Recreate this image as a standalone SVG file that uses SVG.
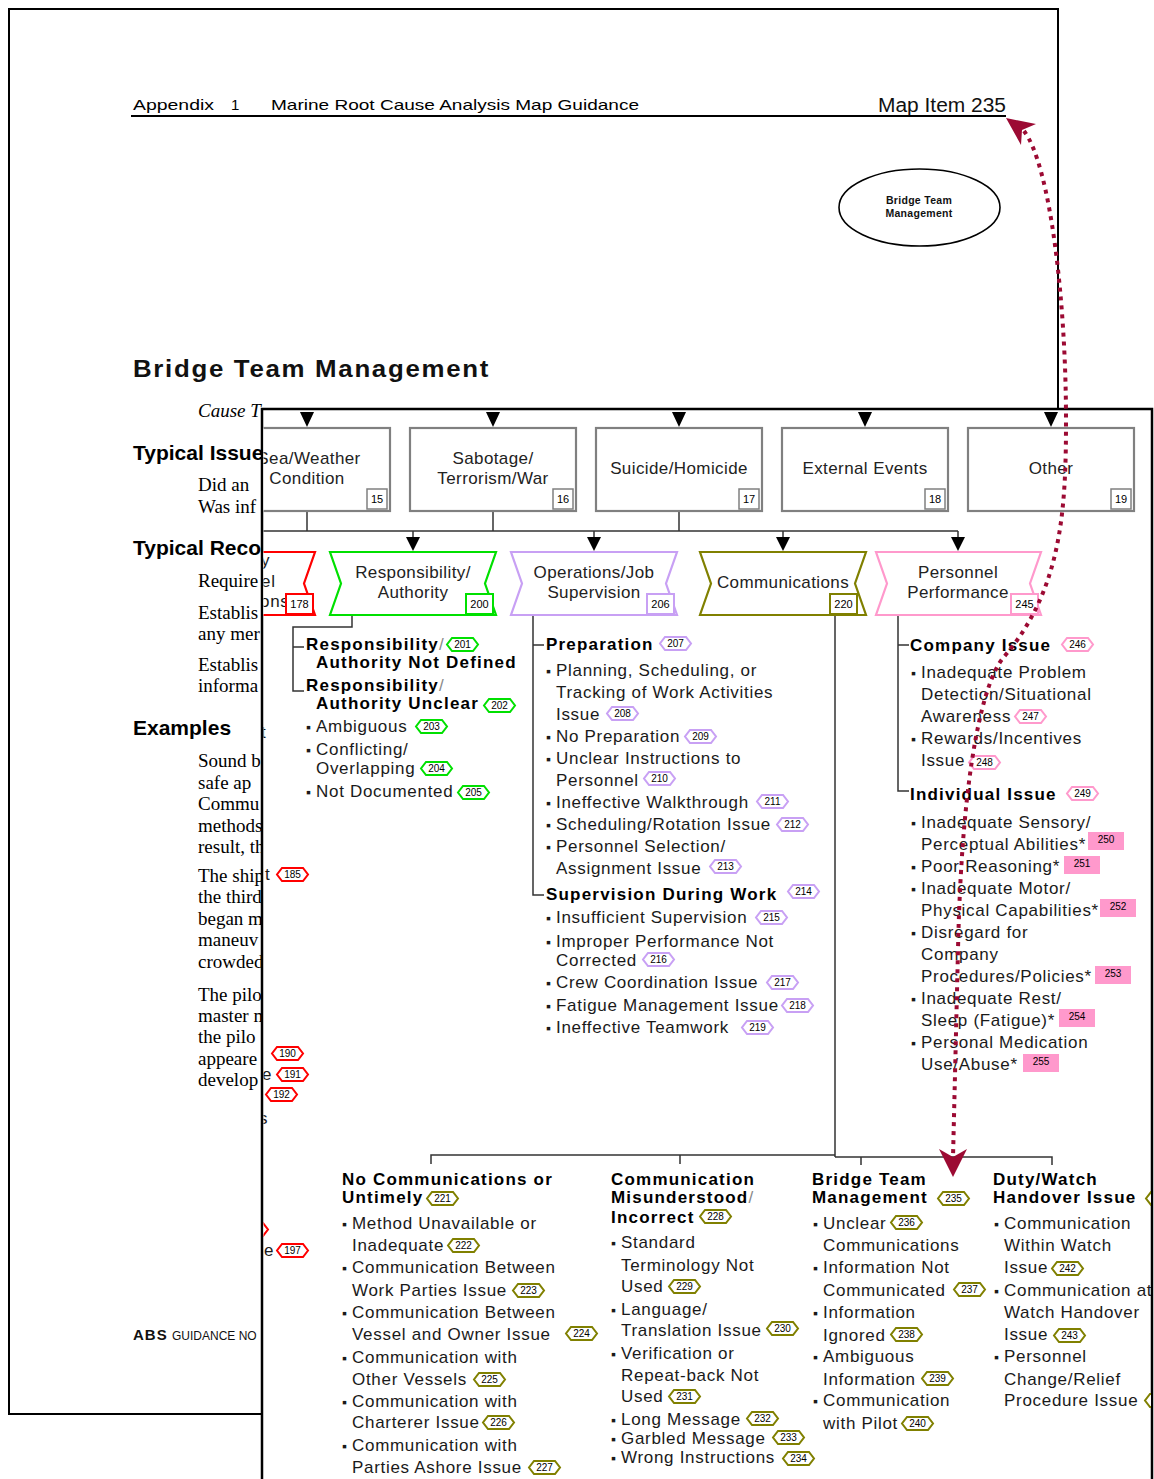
<svg xmlns="http://www.w3.org/2000/svg" width="1154" height="1479" viewBox="0 0 1154 1479">
<style>
text{font-family:"Liberation Sans",Arial,sans-serif;fill:#111}
.hd{font-size:15px;fill:#000}
.ser{font-family:"Liberation Serif","Times New Roman",serif;font-size:19px;fill:#000}
.ita{font-style:italic}
.lh{font-size:21px;font-weight:bold;fill:#000}
.t{font-size:17px;letter-spacing:0.7px;fill:#1a1a1a}
.b{font-size:17px;font-weight:bold;letter-spacing:1.2px;fill:#000}
.bt{font-size:17px;letter-spacing:0.4px;text-anchor:middle;fill:#222}
.n{font-size:10px;text-anchor:middle;fill:#000}
.nb{font-size:11px;text-anchor:middle;fill:#000}
.bu{font-size:14px}
.bx{fill:#fff;stroke:#808080;stroke-width:2.2}
.nbx{fill:#fff;stroke:#808080;stroke-width:1.5}
.ln{fill:none;stroke:#333;stroke-width:1.5}
.ah{fill:#000}
.hx{fill:#fff;stroke-width:2}
.cv{fill:#fff;stroke-width:2.2}
.nc{fill:#fff;stroke-width:2}
.r{stroke:#ff0000}.g{stroke:#00e000}.p{stroke:#c8a0f4}.o{stroke:#808000}.k{stroke:#ff99cc}
.pk{fill:#ff99cc}
.sl{fill:#888;font-weight:normal}
.red{fill:#9c0a33}
</style>
<defs>
<polygon id="hx" points="5,0 26,0 31,6.5 26,13 5,13 0,6.5"/>
<clipPath id="pg"><rect x="263.5" y="410.5" width="887.5" height="1070"/></clipPath>
</defs>
<rect width="1154" height="1479" fill="#fff"/>

<g id="page1">
<rect x="9" y="9" width="1049" height="1405" fill="#fff" stroke="#000" stroke-width="2"/>
<text class="hd" x="133" y="110" textLength="81" lengthAdjust="spacingAndGlyphs">Appendix</text>
<text class="hd" x="231" y="110">1</text>
<text class="hd" x="271" y="110" textLength="368" lengthAdjust="spacingAndGlyphs">Marine Root Cause Analysis Map Guidance</text>
<text x="878" y="112" font-size="20" fill="#000" textLength="128" lengthAdjust="spacingAndGlyphs">Map Item 235</text>
<line x1="131" y1="116" x2="1006" y2="116" stroke="#000" stroke-width="2"/>
<g id="ellipse-node">
<ellipse cx="919.5" cy="207.5" rx="80.5" ry="38.5" fill="#fff" stroke="#000" stroke-width="1.6"/>
<text x="919" y="204" font-size="10.5" font-weight="bold" text-anchor="middle" fill="#000" letter-spacing="0.3">Bridge Team</text>
<text x="919" y="217" font-size="10.5" font-weight="bold" text-anchor="middle" fill="#000" letter-spacing="0.3">Management</text>
</g>
<text x="133" y="377" font-size="23" font-weight="bold" fill="#000" letter-spacing="1.5" textLength="357" lengthAdjust="spacingAndGlyphs">Bridge Team Management</text>
<text class="ser ita" x="198" y="417">Cause T</text>
<text class="lh" x="133" y="460">Typical Issue</text>
<text class="ser" x="198" y="491">Did an</text>
<text class="ser" x="198" y="513">Was inf</text>
<text class="lh" x="133" y="555">Typical Reco</text>
<text class="ser" x="198" y="587">Require</text>
<text class="ser" x="198" y="619">Establis</text>
<text class="ser" x="198" y="640">any mer</text>
<text class="ser" x="198" y="671">Establis</text>
<text class="ser" x="198" y="692">informa</text>
<text class="lh" x="133" y="735">Examples</text>
<text class="ser" x="198" y="767">Sound b</text>
<text class="ser" x="198" y="789">safe  ap</text>
<text class="ser" x="198" y="810">Commu</text>
<text class="ser" x="198" y="832">methods</text>
<text class="ser" x="198" y="853">result, th</text>
<text class="ser" x="198" y="882">The ship</text>
<text class="ser" x="198" y="903">the third</text>
<text class="ser" x="198" y="925">began m</text>
<text class="ser" x="198" y="946">maneuv</text>
<text class="ser" x="198" y="968">crowded</text>
<text class="ser" x="198" y="1001">The pilo</text>
<text class="ser" x="198" y="1022">master m</text>
<text class="ser" x="198" y="1043">the  pilo</text>
<text class="ser" x="198" y="1065">appeare</text>
<text class="ser" x="198" y="1086">develop</text>
<text x="133" y="1340" font-size="15" font-weight="bold" fill="#000" letter-spacing="1">ABS</text>
<text x="172" y="1340" font-size="12" fill="#000">GUIDANCE NO</text>
</g>

<g id="page2">
<rect x="262" y="409" width="890" height="1090" fill="#fff" stroke="#000" stroke-width="2.5"/>
<g clip-path="url(#pg)">

<g id="connectors">
<polygon class="ah" points="300,412 314,412 307,427"/>
<polygon class="ah" points="486,412 500,412 493,427"/>
<polygon class="ah" points="672,412 686,412 679,427"/>
<polygon class="ah" points="858,412 872,412 865,427"/>
<polygon class="ah" points="1044,412 1058,412 1051,427"/>
<path class="ln" d="M307,511V531M493,511V531M679,511V531M240,531H958M413,531V538M594,531V538M783,531V538M958,531V538"/>
<polygon class="ah" points="406,537 420,537 413,551"/>
<polygon class="ah" points="587,537 601,537 594,551"/>
<polygon class="ah" points="776,537 790,537 783,551"/>
<polygon class="ah" points="951,537 965,537 958,551"/>
<path class="ln" d="M352,615V627H293V691H304M293,647H304"/>
<path class="ln" d="M533,615V895H544M533,645H544"/>
<path class="ln" d="M898,615V791H909M898,645H909"/>
<path class="ln" d="M835,615V1157M431,1164V1155H835M835,1157H1052V1165M680,1155V1164M861,1157V1165"/>
</g>

<g id="box15"><rect class="bx" x="224" y="428" width="166" height="83"/><text class="bt" x="309" y="464">Sea/Weather</text><text class="bt" x="307" y="484">Condition</text><rect class="nbx" x="367" y="489" width="20" height="20"/><text class="nb" x="377" y="503">15</text></g>
<g id="box16"><rect class="bx" x="410" y="428" width="166" height="83"/><text class="bt" x="493" y="464">Sabotage/</text><text class="bt" x="493" y="484">Terrorism/War</text><rect class="nbx" x="553" y="489" width="20" height="20"/><text class="nb" x="563" y="503">16</text></g>
<g id="box17"><rect class="bx" x="596" y="428" width="166" height="83"/><text class="bt" x="679" y="474">Suicide/Homicide</text><rect class="nbx" x="739" y="489" width="20" height="20"/><text class="nb" x="749" y="503">17</text></g>
<g id="box18"><rect class="bx" x="782" y="428" width="166" height="83"/><text class="bt" x="865" y="474">External Events</text><rect class="nbx" x="925" y="489" width="20" height="20"/><text class="nb" x="935" y="503">18</text></g>
<g id="box19"><rect class="bx" x="968" y="428" width="166" height="83"/><text class="bt" x="1051" y="474">Other</text><rect class="nbx" x="1111" y="489" width="20" height="20"/><text class="nb" x="1121" y="503">19</text></g>

<g id="chev178"><path class="cv r" d="M149,552H315L304,583.5L315,615H149L160,583.5Z"/><text class="t" x="261" y="566">y</text><text class="t" x="261" y="587">el</text><text class="t" x="260" y="607">ons</text><rect class="nc r" x="286" y="594" width="27" height="20"/><text class="nb" x="299.5" y="608">178</text></g>
<g id="chev200"><path class="cv g" d="M330,552H496L485,583.5L496,615H330L341,583.5Z"/><text class="bt" x="413" y="578">Responsibility/</text><text class="bt" x="413" y="598">Authority</text><rect class="nc g" x="466" y="594" width="27" height="20"/><text class="nb" x="479.5" y="608">200</text></g>
<g id="chev206"><path class="cv p" d="M511,552H677L666,583.5L677,615H511L522,583.5Z"/><text class="bt" x="594" y="578">Operations/Job</text><text class="bt" x="594" y="598">Supervision</text><rect class="nc p" x="647" y="594" width="27" height="20"/><text class="nb" x="660.5" y="608">206</text></g>
<g id="chev220"><path class="cv o" d="M700,552H866L855,583.5L866,615H700L711,583.5Z"/><text class="bt" x="783" y="588">Communications</text><rect class="nc o" x="830" y="594" width="27" height="20"/><text class="nb" x="843.5" y="608">220</text></g>
<g id="chev245"><path class="cv k" d="M876,552H1041L1030,583.5L1041,615H876L887,583.5Z"/><text class="bt" x="958" y="578">Personnel</text><text class="bt" x="958" y="598">Performance</text><rect class="nc k" x="1011" y="594" width="27" height="20"/><text class="nb" x="1024.5" y="608">245</text></g>

<g id="red-fragments">
<text class="t" x="261" y="738">t</text>
<text class="t" x="265" y="880">t</text><use href="#hx" class="hx r" x="277" y="868"/><text class="n" x="292.5" y="878">185</text>
<use href="#hx" class="hx r" x="272" y="1047"/><text class="n" x="287.5" y="1057">190</text>
<text class="t" x="262" y="1080">e</text><use href="#hx" class="hx r" x="277" y="1068"/><text class="n" x="292.5" y="1078">191</text>
<use href="#hx" class="hx r" x="266" y="1088"/><text class="n" x="281.5" y="1098">192</text>
<text class="t" x="259" y="1124">s</text>
<use href="#hx" class="hx r" x="237" y="1223"/>
<text class="t" x="264" y="1256">e</text><use href="#hx" class="hx r" x="277" y="1244"/><text class="n" x="292.5" y="1254">197</text>
</g>

<g id="resp-items">
<text class="b" x="306" y="650">Responsibility<tspan class="sl">/</tspan></text><use href="#hx" class="hx g" x="447" y="638"/><text class="n" x="462.5" y="648">201</text>
<text class="b" x="316" y="668">Authority Not Defined</text>
<text class="b" x="306" y="691">Responsibility<tspan class="sl">/</tspan></text>
<text class="b" x="316" y="709">Authority Unclear</text><use href="#hx" class="hx g" x="484" y="699"/><text class="n" x="499.5" y="709">202</text>
<text class="t" y="732"><tspan class="bu" x="306">▪</tspan><tspan x="316">Ambiguous</tspan></text><use href="#hx" class="hx g" x="416" y="720"/><text class="n" x="431.5" y="730">203</text>
<text class="t" y="755"><tspan class="bu" x="306">▪</tspan><tspan x="316">Conflicting/</tspan></text>
<text class="t" x="316" y="774">Overlapping</text><use href="#hx" class="hx g" x="421" y="762"/><text class="n" x="436.5" y="772">204</text>
<text class="t" y="797"><tspan class="bu" x="306">▪</tspan><tspan x="316">Not Documented</tspan></text><use href="#hx" class="hx g" x="458" y="786"/><text class="n" x="473.5" y="796">205</text>
</g>

<g id="ops-items">
<text class="b" x="546" y="650">Preparation</text><use href="#hx" class="hx p" x="660" y="637"/><text class="n" x="675.5" y="647">207</text>
<text class="t" y="676"><tspan class="bu" x="546">▪</tspan><tspan x="556">Planning, Scheduling, or</tspan></text>
<text class="t" x="556" y="698">Tracking of Work Activities</text>
<text class="t" x="556" y="720">Issue</text><use href="#hx" class="hx p" x="607" y="707"/><text class="n" x="622.5" y="717">208</text>
<text class="t" y="742"><tspan class="bu" x="546">▪</tspan><tspan x="556">No Preparation</tspan></text><use href="#hx" class="hx p" x="685" y="730"/><text class="n" x="700.5" y="740">209</text>
<text class="t" y="764"><tspan class="bu" x="546">▪</tspan><tspan x="556">Unclear Instructions to</tspan></text>
<text class="t" x="556" y="786">Personnel</text><use href="#hx" class="hx p" x="644" y="772"/><text class="n" x="659.5" y="782">210</text>
<text class="t" y="808"><tspan class="bu" x="546">▪</tspan><tspan x="556">Ineffective Walkthrough</tspan></text><use href="#hx" class="hx p" x="757" y="795"/><text class="n" x="772.5" y="805">211</text>
<text class="t" y="830"><tspan class="bu" x="546">▪</tspan><tspan x="556">Scheduling/Rotation Issue</tspan></text><use href="#hx" class="hx p" x="777" y="818"/><text class="n" x="792.5" y="828">212</text>
<text class="t" y="852"><tspan class="bu" x="546">▪</tspan><tspan x="556">Personnel Selection/</tspan></text>
<text class="t" x="556" y="874">Assignment Issue</text><use href="#hx" class="hx p" x="710" y="860"/><text class="n" x="725.5" y="870">213</text>
<text class="b" x="546" y="900">Supervision During Work</text><use href="#hx" class="hx p" x="788" y="885"/><text class="n" x="803.5" y="895">214</text>
<text class="t" y="923"><tspan class="bu" x="546">▪</tspan><tspan x="556">Insufficient Supervision</tspan></text><use href="#hx" class="hx p" x="756" y="911"/><text class="n" x="771.5" y="921">215</text>
<text class="t" y="947"><tspan class="bu" x="546">▪</tspan><tspan x="556">Improper Performance Not</tspan></text>
<text class="t" x="556" y="966">Corrected</text><use href="#hx" class="hx p" x="643" y="953"/><text class="n" x="658.5" y="963">216</text>
<text class="t" y="988"><tspan class="bu" x="546">▪</tspan><tspan x="556">Crew Coordination Issue</tspan></text><use href="#hx" class="hx p" x="767" y="976"/><text class="n" x="782.5" y="986">217</text>
<text class="t" y="1011"><tspan class="bu" x="546">▪</tspan><tspan x="556">Fatigue Management Issue</tspan></text><use href="#hx" class="hx p" x="782" y="999"/><text class="n" x="797.5" y="1009">218</text>
<text class="t" y="1033"><tspan class="bu" x="546">▪</tspan><tspan x="556">Ineffective Teamwork</tspan></text><use href="#hx" class="hx p" x="742" y="1021"/><text class="n" x="757.5" y="1031">219</text>
</g>

<g id="pers-items">
<text class="b" x="910" y="651">Company Issue</text><use href="#hx" class="hx k" x="1062" y="638"/><text class="n" x="1077.5" y="648">246</text>
<text class="t" y="678"><tspan class="bu" x="911">▪</tspan><tspan x="921">Inadequate Problem</tspan></text>
<text class="t" x="921" y="700">Detection/Situational</text>
<text class="t" x="921" y="722">Awareness</text><use href="#hx" class="hx k" x="1015" y="710"/><text class="n" x="1030.5" y="720">247</text>
<text class="t" y="744"><tspan class="bu" x="911">▪</tspan><tspan x="921">Rewards/Incentives</tspan></text>
<text class="t" x="921" y="766">Issue</text><use href="#hx" class="hx k" x="969" y="756"/><text class="n" x="984.5" y="766">248</text>
<text class="b" x="910" y="800">Individual Issue</text><use href="#hx" class="hx k" x="1067" y="787"/><text class="n" x="1082.5" y="797">249</text>
<text class="t" y="828"><tspan class="bu" x="911">▪</tspan><tspan x="921">Inadequate Sensory/</tspan></text>
<text class="t" x="921" y="850">Perceptual Abilities*</text><rect class="pk" x="1088" y="832" width="36" height="18"/><text class="n" x="1106" y="843">250</text>
<text class="t" y="872"><tspan class="bu" x="911">▪</tspan><tspan x="921">Poor Reasoning*</tspan></text><rect class="pk" x="1064" y="856" width="36" height="18"/><text class="n" x="1082" y="867">251</text>
<text class="t" y="894"><tspan class="bu" x="911">▪</tspan><tspan x="921">Inadequate Motor/</tspan></text>
<text class="t" x="921" y="916">Physical Capabilities*</text><rect class="pk" x="1100" y="899" width="36" height="18"/><text class="n" x="1118" y="910">252</text>
<text class="t" y="938"><tspan class="bu" x="911">▪</tspan><tspan x="921">Disregard for</tspan></text>
<text class="t" x="921" y="960">Company</text>
<text class="t" x="921" y="982">Procedures/Policies*</text><rect class="pk" x="1095" y="966" width="36" height="18"/><text class="n" x="1113" y="977">253</text>
<text class="t" y="1004"><tspan class="bu" x="911">▪</tspan><tspan x="921">Inadequate Rest/</tspan></text>
<text class="t" x="921" y="1026">Sleep (Fatigue)*</text><rect class="pk" x="1059" y="1009" width="36" height="18"/><text class="n" x="1077" y="1020">254</text>
<text class="t" y="1048"><tspan class="bu" x="911">▪</tspan><tspan x="921">Personal Medication</tspan></text>
<text class="t" x="921" y="1070">Use/Abuse*</text><rect class="pk" x="1023" y="1054" width="36" height="18"/><text class="n" x="1041" y="1065">255</text>
</g>

<g id="comm-col1">
<text class="b" x="342" y="1185">No Communications or</text>
<text class="b" x="342" y="1203">Untimely</text><use href="#hx" class="hx o" x="427" y="1192"/><text class="n" x="442.5" y="1202">221</text>
<text class="t" y="1229"><tspan class="bu" x="342">▪</tspan><tspan x="352">Method Unavailable or</tspan></text>
<text class="t" x="352" y="1251">Inadequate</text><use href="#hx" class="hx o" x="448" y="1239"/><text class="n" x="463.5" y="1249">222</text>
<text class="t" y="1273"><tspan class="bu" x="342">▪</tspan><tspan x="352">Communication Between</tspan></text>
<text class="t" x="352" y="1296">Work Parties Issue</text><use href="#hx" class="hx o" x="513" y="1284"/><text class="n" x="528.5" y="1294">223</text>
<text class="t" y="1318"><tspan class="bu" x="342">▪</tspan><tspan x="352">Communication Between</tspan></text>
<text class="t" x="352" y="1340">Vessel and Owner Issue</text><use href="#hx" class="hx o" x="566" y="1327"/><text class="n" x="581.5" y="1337">224</text>
<text class="t" y="1363"><tspan class="bu" x="342">▪</tspan><tspan x="352">Communication with</tspan></text>
<text class="t" x="352" y="1385">Other Vessels</text><use href="#hx" class="hx o" x="474" y="1373"/><text class="n" x="489.5" y="1383">225</text>
<text class="t" y="1407"><tspan class="bu" x="342">▪</tspan><tspan x="352">Communication with</tspan></text>
<text class="t" x="352" y="1428">Charterer Issue</text><use href="#hx" class="hx o" x="483" y="1416"/><text class="n" x="498.5" y="1426">226</text>
<text class="t" y="1451"><tspan class="bu" x="342">▪</tspan><tspan x="352">Communication with</tspan></text>
<text class="t" x="352" y="1473">Parties Ashore Issue</text><use href="#hx" class="hx o" x="529" y="1461"/><text class="n" x="544.5" y="1471">227</text>
</g>

<g id="comm-col2">
<text class="b" x="611" y="1185">Communication</text>
<text class="b" x="611" y="1203">Misunderstood<tspan class="sl">/</tspan></text>
<text class="b" x="611" y="1223">Incorrect</text><use href="#hx" class="hx o" x="700" y="1210"/><text class="n" x="715.5" y="1220">228</text>
<text class="t" y="1248"><tspan class="bu" x="611">▪</tspan><tspan x="621">Standard</tspan></text>
<text class="t" x="621" y="1271">Terminology Not</text>
<text class="t" x="621" y="1292">Used</text><use href="#hx" class="hx o" x="669" y="1280"/><text class="n" x="684.5" y="1290">229</text>
<text class="t" y="1315"><tspan class="bu" x="611">▪</tspan><tspan x="621">Language/</tspan></text>
<text class="t" x="621" y="1336">Translation Issue</text><use href="#hx" class="hx o" x="767" y="1322"/><text class="n" x="782.5" y="1332">230</text>
<text class="t" y="1359"><tspan class="bu" x="611">▪</tspan><tspan x="621">Verification  or</tspan></text>
<text class="t" x="621" y="1381">Repeat-back Not</text>
<text class="t" x="621" y="1402">Used</text><use href="#hx" class="hx o" x="669" y="1390"/><text class="n" x="684.5" y="1400">231</text>
<text class="t" y="1425"><tspan class="bu" x="611">▪</tspan><tspan x="621">Long Message</tspan></text><use href="#hx" class="hx o" x="747" y="1412"/><text class="n" x="762.5" y="1422">232</text>
<text class="t" y="1444"><tspan class="bu" x="611">▪</tspan><tspan x="621">Garbled Message</tspan></text><use href="#hx" class="hx o" x="773" y="1431"/><text class="n" x="788.5" y="1441">233</text>
<text class="t" y="1463"><tspan class="bu" x="611">▪</tspan><tspan x="621">Wrong Instructions</tspan></text><use href="#hx" class="hx o" x="783" y="1452"/><text class="n" x="798.5" y="1462">234</text>
</g>

<g id="comm-col3">
<text class="b" x="812" y="1185">Bridge Team</text>
<text class="b" x="812" y="1203">Management</text><use href="#hx" class="hx o" x="938" y="1192"/><text class="n" x="953.5" y="1202">235</text>
<text class="t" y="1229"><tspan class="bu" x="813">▪</tspan><tspan x="823">Unclear</tspan></text><use href="#hx" class="hx o" x="891" y="1216"/><text class="n" x="906.5" y="1226">236</text>
<text class="t" x="823" y="1251">Communications</text>
<text class="t" y="1273"><tspan class="bu" x="813">▪</tspan><tspan x="823">Information Not</tspan></text>
<text class="t" x="823" y="1296">Communicated</text><use href="#hx" class="hx o" x="954" y="1283"/><text class="n" x="969.5" y="1293">237</text>
<text class="t" y="1318"><tspan class="bu" x="813">▪</tspan><tspan x="823">Information</tspan></text>
<text class="t" x="823" y="1341">Ignored</text><use href="#hx" class="hx o" x="891" y="1328"/><text class="n" x="906.5" y="1338">238</text>
<text class="t" y="1362"><tspan class="bu" x="813">▪</tspan><tspan x="823">Ambiguous</tspan></text>
<text class="t" x="823" y="1385">Information</text><use href="#hx" class="hx o" x="922" y="1372"/><text class="n" x="937.5" y="1382">239</text>
<text class="t" y="1406"><tspan class="bu" x="813">▪</tspan><tspan x="823">Communication</tspan></text>
<text class="t" x="823" y="1429">with Pilot</text><use href="#hx" class="hx o" x="902" y="1417"/><text class="n" x="917.5" y="1427">240</text>
</g>

<g id="comm-col4">
<text class="b" x="993" y="1185">Duty/Watch</text>
<text class="b" x="993" y="1203">Handover Issue</text><use href="#hx" class="hx o" x="1146" y="1192"/>
<text class="t" y="1229"><tspan class="bu" x="994">▪</tspan><tspan x="1004">Communication</tspan></text>
<text class="t" x="1004" y="1251">Within Watch</text>
<text class="t" x="1004" y="1273">Issue</text><use href="#hx" class="hx o" x="1052" y="1262"/><text class="n" x="1067.5" y="1272">242</text>
<text class="t" y="1296"><tspan class="bu" x="994">▪</tspan><tspan x="1004">Communication at</tspan></text>
<text class="t" x="1004" y="1318">Watch Handover</text>
<text class="t" x="1004" y="1340">Issue</text><use href="#hx" class="hx o" x="1054" y="1329"/><text class="n" x="1069.5" y="1339">243</text>
<text class="t" y="1362"><tspan class="bu" x="994">▪</tspan><tspan x="1004">Personnel</tspan></text>
<text class="t" x="1004" y="1385">Change/Relief</text>
<text class="t" x="1004" y="1406">Procedure Issue</text><use href="#hx" class="hx o" x="1145" y="1394"/>
</g>
</g>
</g>

<g id="link-arrow">
<path d="M1024,131 C1050,165 1066,300 1066,420 C1066,510 1062,590 1003,658 C985,680 962,760 958,950 L953,1158" fill="none" stroke="#9c0a33" stroke-width="4" stroke-dasharray="4 5"/>
<polygon class="red" points="1006,118 1036,124 1022,130 1021,145"/>
<polygon class="red" points="939,1149 953,1157 967,1149 953,1177"/>
</g>
</svg>
